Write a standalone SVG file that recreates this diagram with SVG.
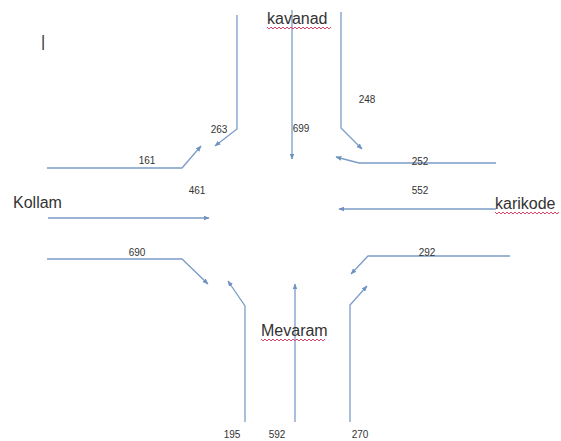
<svg xmlns="http://www.w3.org/2000/svg" width="561" height="441" viewBox="0 0 561 441">
<defs>
<marker id="ah" viewBox="0 0 10 10" refX="9" refY="5" markerWidth="6" markerHeight="6" orient="auto" markerUnits="userSpaceOnUse">
<path d="M0,1 L10,5 L0,9 Z" fill="#6f93c0"/>
</marker>
<path id="sq" d="M0,0 l2,2 l2,-2 l2,2 l2,-2 l2,2 l2,-2 l2,2 l2,-2 l2,2 l2,-2 l2,2 l2,-2 l2,2 l2,-2 l2,2 l2,-2 l2,2 l2,-2 l2,2 l2,-2 l2,2 l2,-2 l2,2 l2,-2 l2,2 l2,-2 l2,2 l2,-2 l2,2 l2,-2 l2,2 l2,-2"/>
</defs>
<style>
.c{fill:none;stroke:#7b9cc6;stroke-width:1.3;marker-end:url(#ah)}
.n{font-family:"Liberation Sans",Arial,sans-serif;font-size:10px;fill:#333;text-anchor:middle}
.p{font-family:"Liberation Sans",Arial,sans-serif;font-size:16px;fill:#333}
.s{fill:none;stroke:#d9486a;stroke-width:1}
</style>
<rect width="561" height="441" fill="#fff"/>
<text x="41" y="47" class="p">|</text>
<g id="connectors">
<path class="c" d="M237,15 V129 L215,146"/>
<path class="c" d="M47,168 H182 L201,146"/>
<path class="c" d="M48,218 H209"/>
<path class="c" d="M292,10 V159"/>
<path class="c" d="M341,12 V128 L362,149"/>
<path class="c" d="M496,163 H359 L336,157"/>
<path class="c" d="M496,209 H339"/>
<path class="c" d="M47,259 H182 L208,284"/>
<path class="c" d="M510,256 H368 L351,274"/>
<path class="c" d="M245,422 V306 L228,281"/>
<path class="c" d="M295,422 V284"/>
<path class="c" d="M350,422 V305 L367,286"/>
</g>
<g id="kavanad"><text class="p" x="267" y="24">kavanad</text><use href="#sq" class="s" x="267" y="27"/></g>
<g id="kollam"><text class="p" x="13" y="208">Kollam</text></g>
<g id="karikode"><text class="p" x="495" y="209">karikode</text><use href="#sq" class="s" x="495" y="212"/></g>
<g id="mevaram"><text class="p" x="261" y="336">Mevaram</text><use href="#sq" class="s" x="261" y="339"/></g>
<g id="labels">
<text class="n" x="147" y="164">161</text>
<text class="n" x="219" y="133">263</text>
<text class="n" x="197" y="194">461</text>
<text class="n" x="301" y="132">699</text>
<text class="n" x="367" y="103">248</text>
<text class="n" x="420" y="165">252</text>
<text class="n" x="420" y="194">552</text>
<text class="n" x="137" y="256">690</text>
<text class="n" x="427" y="256">292</text>
<text class="n" x="232" y="438">195</text>
<text class="n" x="277" y="438">592</text>
<text class="n" x="360" y="438">270</text>
</g>
</svg>
